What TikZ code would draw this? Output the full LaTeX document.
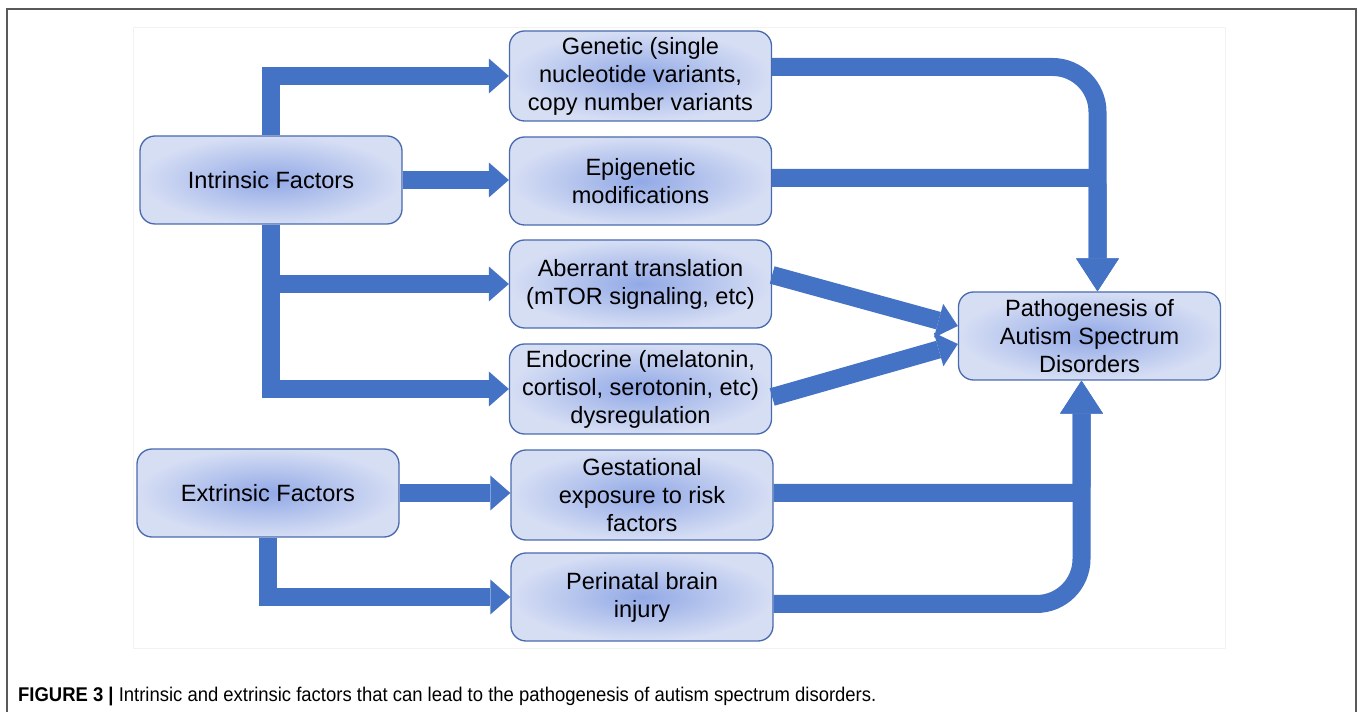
\documentclass[tikz,border=0pt]{standalone}
\usepackage{fontspec}
\setmainfont{Liberation Sans}
\newfontfamily\capfont{Liberation Sans}[FakeStretch=0.93]
\usepackage{xcolor}
\usetikzlibrary{arrows.meta,positioning}
\definecolor{arrblue}{HTML}{4472C4}
\definecolor{boxline}{HTML}{4A6AAE}
\definecolor{boxin}{HTML}{92A9E6}
\definecolor{boxout}{HTML}{D6DEF4}

\begin{document}
\begin{tikzpicture}[
  font=\fontsize{13.4}{15.9}\selectfont,
  factor/.style={draw=boxline,line width=0.75pt,rounded corners=0.3cm,shade,shading=radial,inner color=boxin,outer color=boxout,minimum width=5.24cm,minimum height=1.76cm,align=center},
  arr/.style={draw=arrblue,line width=0.36cm,-{Triangle[length=0.4cm,width=0.7cm,line width=0pt]}},
  bigarr/.style={draw=arrblue,line width=0.36cm,-{Triangle[length=0.66cm,width=0.86cm,line width=0pt]}}
]
\useasboundingbox (0,0) rectangle (27.16,14.24);

% frame and panel
\draw[black!65,line width=1.1pt] (0.14,0) -- (0.14,14.06) -- (27.12,14.06) -- (27.12,0);
\draw[black!5] (2.66,1.28) rectangle (24.5,13.7);

\node[factor] (intr) at (5.42,10.64) {Intrinsic Factors};
\node[factor] (extr) at (5.36,4.38) {Extrinsic Factors};

\node[factor,minimum height=1.8cm] (gen) at (12.81,12.72) {Genetic (single\\nucleotide variants,\\copy number variants};
\node[factor] (epi) at (12.81,10.62) {Epigenetic\\modifications};
\node[factor] (aber) at (12.81,8.56) {Aberrant translation\\(mTOR signaling, etc)};
\node[factor,minimum height=1.8cm] (endo) at (12.81,6.46) {Endocrine (melatonin,\\cortisol, serotonin, etc)\\dysregulation};
\node[factor,minimum height=1.8cm] (gest) at (12.84,4.34) {Gestational\\exposure to risk\\factors};
\node[factor] (peri) at (12.84,2.30) {Perinatal brain\\injury};

\node[factor] (asd) at (21.79,7.52) {Pathogenesis of\\Autism Spectrum\\Disorders};

\draw[arr] (intr.north) |- (gen.west);
\draw[arr] (intr.east) -- (intr.east -| epi.west);
\draw[arr] (intr.south) |- (aber.west);
\draw[arr] (intr.south) |- (endo.west);
\draw[arr] (extr.east) -- (extr.east -| gest.west);
\draw[arr] (extr.south) |- (peri.west);

\draw[bigarr,rounded corners=0.9cm] ([yshift=0.18cm]gen.east) -| ([xshift=0.16cm]asd.north);
\draw[bigarr,rounded corners=0.15cm] ([yshift=0.06cm]epi.east) -| ([xshift=0.16cm]asd.north);
\draw[arr] ([yshift=0.18cm]aber.east) -- ([yshift=0.2cm]asd.west);
\draw[arr] ([yshift=-0.16cm]endo.east) -- ([yshift=-0.16cm]asd.west);
\draw[bigarr,rounded corners=0.15cm] ([yshift=0.04cm]gest.east) -| ([xshift=-0.16cm]asd.south);
\draw[bigarr,rounded corners=0.9cm] ([yshift=-0.14cm]peri.east) -| ([xshift=-0.16cm]asd.south);

\node[anchor=base west,font=\capfont\fontsize{11.3}{13}\selectfont] (cap) at (0.24,0.2) {\textbf{FIGURE 3 |} Intrinsic and extrinsic factors that can lead to the pathogenesis of autism spectrum disorders.};
\end{tikzpicture}
\end{document}
